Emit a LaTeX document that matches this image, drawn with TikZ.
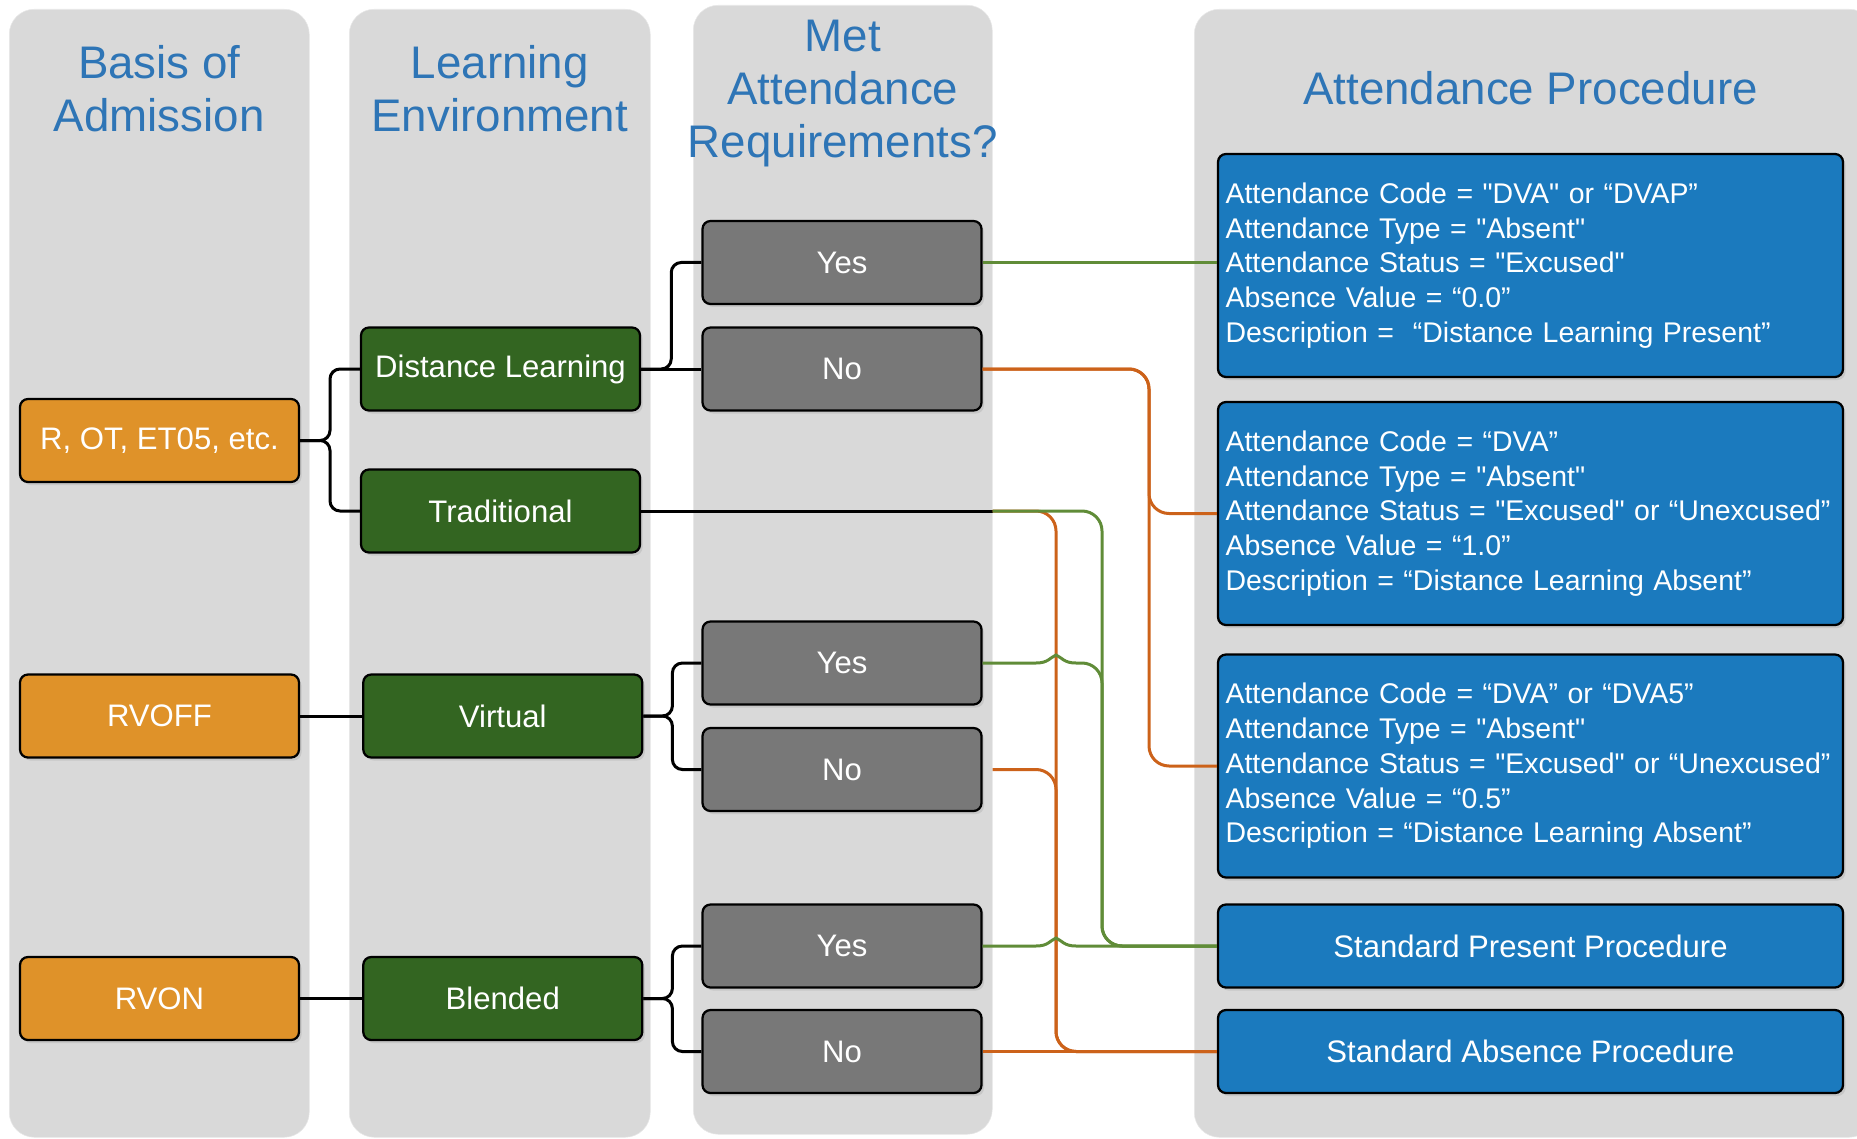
\documentclass[tikz,border=0pt]{standalone}
\usepackage{fontspec}
\setmainfont{Liberation Sans}[Ligatures=TeXOff]
\usetikzlibrary{positioning}
\usetikzlibrary{calc}
\usetikzlibrary{shadows}

\definecolor{lane grey}{RGB}{217,217,217}
\definecolor{heading blue}{RGB}{46,117,182}
\definecolor{admit orange}{RGB}{223,146,41}
\definecolor{envir green}{RGB}{51,101,33}
\definecolor{answer grey}{RGB}{120,120,120}
\definecolor{proc blue}{RGB}{27,122,190}
\definecolor{present green}{RGB}{96,140,56}
\definecolor{absent orange}{RGB}{204,98,26}

\tikzset{
    % Grey rounded band behind each column of the chart
    lane/.style={fill=lane grey, draw=black!9, line width=0.3pt,
        rounded corners=5mm, anchor=north west},
%
    % Blue titles at the top of the columns
    heading/.style={text=heading blue, align=center,
        font=\fontsize{26}{30.2}\selectfont},
%
    % Shape shared by every box of the chart
    stage box/.style={draw, line width=0.45mm, rounded corners=1.6mm,
        minimum width=55.8mm, minimum height=16.6mm, text=white,
        font=\fontsize{17.7}{21}\selectfont,
        drop shadow={opacity=0.2, shadow xshift=0.5mm, shadow yshift=-0.6mm}},
    admit box/.style={stage box, fill=admit orange},
    envir box/.style={stage box, fill=envir green},
    answer box/.style={stage box, fill=answer grey},
    proc box/.style={stage box, fill=proc blue, minimum width=125mm},
%
    % The tall blue boxes with the attendance codes
    code box/.style={proc box, minimum height=44.6mm, align=left,
        text width=122mm, inner xsep=1.5mm,
        font=\fontsize{16.2}{19.75}\selectfont},
%
    % Connectors: black forks, green for present, orange for absent
    fork line/.style={line width=0.6mm, rounded corners=2mm},
    present line/.style={draw=present green, line width=0.6mm,
        rounded corners=4mm},
    absent line/.style={draw=absent orange, line width=0.6mm,
        rounded corners=4mm}}

\begin{document}
\begin{tikzpicture}

\useasboundingbox (0,0) rectangle (371.4mm,-227.8mm);

\node [lane, minimum width=60mm, minimum height=225.6mm]
    (lane admit) at (1.8mm,-1.8mm) {};
\node [lane, minimum width=60.2mm, minimum height=225.6mm]
    (lane envir) at (69.8mm,-1.8mm) {};
\node [lane, minimum width=59.8mm, minimum height=225.8mm]
    (lane met) at (138.6mm,-1mm) {};
\node [lane, minimum width=136mm, minimum height=225.6mm]
    (lane proc) at (238.8mm,-1.8mm) {};

\coordinate (head line) at (0,-17.7mm);
\node [heading] (head admit) at (lane admit.north |- head line)
    {Basis of\\Admission};
\node [heading] (head envir) at (lane envir.north |- head line)
    {Learning\\Environment};
\node [heading, yshift=-1mm] (head met) at (lane met.north |- head line)
    {Met\\Attendance\\Requirements?};
\node [heading] (head proc) at (306.1mm,-17.7mm) {Attendance Procedure};

% basis of admission
\node [admit box] (r ot) at (31.9mm,-88.1mm) {R, OT, ET05, etc.};
\node [admit box] (rvoff) at (31.9mm,-143.2mm) {RVOFF};
\node [admit box] (rvon) at (31.9mm,-199.7mm) {RVON};

% learning environment
\node [envir box] (dl) at (100.1mm,-73.8mm) {Distance Learning};
\node [envir box] (trad) at (100.1mm,-102.2mm) {Traditional};
\node [envir box, right=12.4mm of rvoff] (virtual) {Virtual};
\node [envir box, right=12.4mm of rvon] (blended) {Blended};

% met the requirements or not
\node [answer box] (yes1) at (168.4mm,-52.5mm) {Yes};
\node [answer box] (no1) at (168.4mm,-73.8mm) {No};
\node [answer box] (yes2) at (168.4mm,-132.6mm) {Yes};
\node [answer box] (no2) at (168.4mm,-153.9mm) {No};
\node [answer box] (yes3) at (168.4mm,-189.2mm) {Yes};
\node [answer box] (no3) at (168.4mm,-210.3mm) {No};

% attendance procedures
\node [code box] (b1) at (306.1mm,-53.1mm)
    {Attendance Code = "DVA" or “DVAP”\\
     Attendance Type = "Absent"\\
     Attendance Status = "Excused"\\
     Absence Value = “0.0”\\
     Description =\ \ “Distance Learning Present”};
\node [code box] (b2) at (306.1mm,-102.7mm)
    {Attendance Code = “DVA”\\
     Attendance Type = "Absent"\\
     Attendance Status = "Excused" or “Unexcused”\\
     Absence Value = “1.0”\\
     Description = “Distance Learning Absent”};
\node [code box] (b3) at (306.1mm,-153.2mm)
    {Attendance Code = “DVA” or “DVA5”\\
     Attendance Type = "Absent"\\
     Attendance Status = "Excused" or “Unexcused”\\
     Absence Value = “0.5”\\
     Description = “Distance Learning Absent”};
\node [proc box] (b4) at (306.1mm,-189.2mm) {Standard Present Procedure};
\node [proc box] (b5) at (306.1mm,-210.3mm) {Standard Absence Procedure};

% black forks between the first three columns
\coordinate (fork admit) at ($(r ot.east)!.5!(r ot.east -| dl.west)$);
\draw [fork line] (r ot.east) -- (fork admit) |- (dl.west);
\draw [fork line] (r ot.east) -- (fork admit) |- (trad.west);
\draw [fork line] (rvoff) -- (virtual);
\draw [fork line] (rvon) -- (blended);

\coordinate (fork dl) at ($(dl.east)!.5!(dl.east -| yes1.west)$);
\draw [fork line] (dl.east) -- (fork dl) |- (yes1.west);
\draw [fork line] (dl.east) -- (no1.west);
\coordinate (fork virtual) at ($(virtual.east)!.5!(virtual.east -| yes2.west)$);
\draw [fork line] (virtual.east) -- (fork virtual) |- (yes2.west);
\draw [fork line] (virtual.east) -- (fork virtual) |- (no2.west);
\coordinate (fork blended) at ($(blended.east)!.5!(blended.east -| yes3.west)$);
\draw [fork line] (blended.east) -- (fork blended) |- (yes3.west);
\draw [fork line] (blended.east) -- (fork blended) |- (no3.west);

% trunks that run down to the procedures
\coordinate (absent trunk) at (211.2mm,0);
\coordinate (present trunk) at (220.4mm,0);
\coordinate (no trunk) at (229.8mm,0);

\draw [present line] (yes1.east) -- (yes1.east -| b1.west);
\draw [absent line] (no1.east) -| (no trunk |- b2.west) -- (b2.west);
\draw [absent line] (no1.east) -| (no trunk |- b3.west) -- (b3.west);

\draw [fork line] (trad.east) -- (trad.east -| lane met.east)
    coordinate (trad out);
\draw [absent line] (trad out) -| (absent trunk |- b5.west) -- (b5.west);
\draw [present line] (trad out) -| (present trunk |- b4.west) -- (b4.west);

\draw [absent line] (no2.east -| lane met.east)
    -| (absent trunk |- b5.west) -- (b5.west);
\draw [absent line] (no3.east) -- (b5.west);

% green lines hop over the orange trunk
\coordinate (hop yes2) at (absent trunk |- yes2.east);
\draw [present line] (yes2.east) [sharp corners] -- ($(hop yes2)+(-4mm,0)$)
    .. controls +(2.4mm,0) and +(-1.3mm,-0.6mm) .. ($(hop yes2)+(0,1.6mm)$)
    .. controls +(1.3mm,-0.6mm) and +(-2.4mm,0) .. ($(hop yes2)+(4mm,0)$)
    [rounded corners=4mm] -| (present trunk |- b4.west) -- (b4.west);
\coordinate (hop yes3) at (absent trunk |- yes3.east);
\draw [present line] (yes3.east) [sharp corners] -- ($(hop yes3)+(-4mm,0)$)
    .. controls +(2.4mm,0) and +(-1.3mm,-0.6mm) .. ($(hop yes3)+(0,1.6mm)$)
    .. controls +(1.3mm,-0.6mm) and +(-2.4mm,0) .. ($(hop yes3)+(4mm,0)$)
    -- (b4.west);

\end{tikzpicture}
\end{document}
